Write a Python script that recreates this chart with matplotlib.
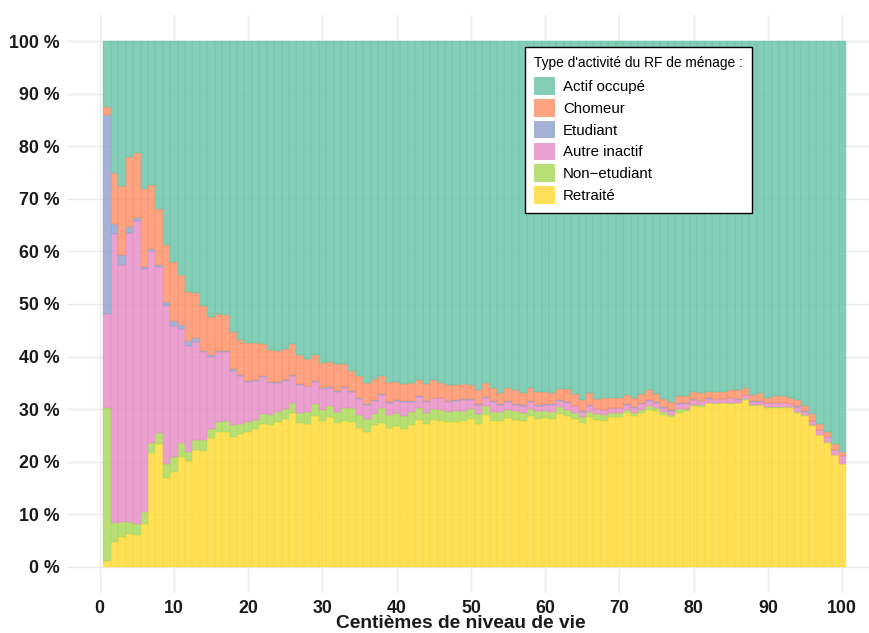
import numpy as np
import matplotlib
matplotlib.use("Agg")
import matplotlib.pyplot as plt
from matplotlib.patches import Patch

# Centiles de niveau de vie 1..100
centiles = np.arange(1, 101)

# Part (en %) de chaque type d'activité
retraite = [1.1, 4.8, 5.6, 6.2, 6.0, 8.1, 21.6, 23.4, 16.8, 18.0,
            20.8, 20.1, 22.2, 22.1, 24.5, 25.7, 25.7, 24.7, 25.3, 25.7,
            26.2, 27.2, 26.9, 27.6, 28.1, 29.2, 27.4, 27.2, 28.7, 27.8,
            28.4, 27.4, 27.7, 27.6, 26.4, 25.7, 26.9, 27.4, 26.4, 26.7,
            26.3, 26.9, 28.0, 27.1, 27.9, 27.8, 27.6, 27.6, 27.8, 28.2,
            27.2, 28.8, 27.8, 27.8, 28.3, 28.0, 27.8, 28.7, 28.1, 28.3,
            28.2, 29.1, 28.6, 28.1, 27.4, 28.4, 28.0, 27.8, 28.4, 28.4,
            29.2, 28.6, 29.2, 29.9, 29.7, 28.8, 28.4, 29.3, 29.7, 30.6,
            30.4, 31.1, 30.9, 31.1, 31.0, 31.1, 31.7, 30.6, 30.7, 30.3,
            30.3, 30.3, 30.3, 29.3, 28.6, 26.8, 25.0, 23.6, 21.2, 19.5]
non_etudiant = [29.1, 3.5, 3.0, 2.4, 2.1, 2.3, 2.0, 2.1, 2.7, 2.8,
                2.8, 1.8, 2.0, 2.1, 1.8, 1.9, 2.1, 2.2, 1.9, 1.8,
                1.8, 1.9, 2.0, 1.9, 2.0, 2.0, 1.9, 2.3, 2.2, 2.0,
                2.1, 2.1, 2.5, 2.6, 2.5, 2.5, 2.2, 2.8, 2.4, 2.5,
                2.4, 2.5, 2.2, 2.1, 2.2, 2.0, 1.9, 2.1, 1.9, 1.9,
                1.8, 1.7, 1.6, 1.6, 1.5, 1.6, 1.4, 1.4, 1.5, 1.3,
                1.3, 1.3, 1.3, 1.2, 1.1, 1.0, 1.0, 1.0, 0.8, 0.8,
                0.7, 0.6, 0.6, 0.6, 0.6, 0.6, 0.4, 0.7, 0.4, 0.2,
                0.3, 0.1, 0.2, 0.1, 0.2, 0.1, 0.2, 0.1, 0.1, 0.1,
                0.1, 0.1, 0.1, 0.2, 0.2, 0.1, 0.1, 0.1, 0.1, 0.1]
autre_inactif = [17.9, 55.0, 48.9, 54.9, 57.7, 46.2, 36.4, 31.5, 30.2, 25.1,
                 21.7, 20.1, 18.6, 16.6, 13.6, 13.3, 13.0, 10.4, 9.1, 7.7,
                 7.4, 7.0, 6.1, 5.5, 5.3, 5.1, 5.3, 4.8, 4.3, 4.0,
                 3.5, 3.8, 3.8, 3.1, 3.0, 2.5, 2.5, 2.5, 2.4, 2.4,
                 2.7, 2.0, 2.1, 2.2, 2.0, 2.3, 1.9, 1.9, 2.0, 1.6,
                 1.7, 1.7, 2.0, 1.4, 1.6, 1.2, 1.3, 1.3, 0.9, 1.1,
                 1.2, 1.2, 1.3, 1.2, 1.0, 1.1, 1.0, 1.0, 1.0, 1.0,
                 0.9, 1.0, 1.1, 1.1, 0.9, 0.9, 0.9, 1.0, 0.9, 0.9,
                 0.8, 0.7, 0.8, 0.7, 0.9, 0.6, 0.7, 0.7, 0.6, 0.7,
                 0.7, 0.7, 0.5, 0.9, 0.7, 0.8, 0.9, 0.9, 0.9, 1.4]
etudiant = [37.9, 2.0, 1.8, 1.1, 0.5, 0.5, 0.4, 0.4, 0.6, 0.8,
            0.7, 0.9, 0.8, 0.2, 0.4, 0.2, 0.2, 0.3, 0.2, 0.2,
            0.2, 0.2, 0.2, 0.2, 0.1, 0.1, 0.1, 0.1, 0.1, 0.2,
            0.2, 0.2, 0.2, 0.1, 0.2, 0.2, 0.1, 0.1, 0.1, 0.1,
            0.1, 0.1, 0.1, 0.1, 0.1, 0.1, 0.1, 0.1, 0.2, 0.2,
            0.2, 0.1, 0.2, 0.1, 0.2, 0.1, 0.2, 0.1, 0.2, 0.2,
            0.2, 0.1, 0.1, 0.1, 0.1, 0.2, 0.1, 0.1, 0.1, 0.1,
            0.1, 0.2, 0.2, 0.1, 0.1, 0.1, 0.1, 0.1, 0.1, 0.2,
            0.1, 0.2, 0.1, 0.1, 0.1, 0.1, 0.1, 0.1, 0.1, 0.1,
            0.1, 0.1, 0.1, 0.1, 0.1, 0.1, 0.1, 0.1, 0.1, 0.1]
chomeur = [1.5, 9.6, 13.2, 13.3, 12.4, 14.7, 12.3, 10.6, 11.0, 11.2,
           9.5, 9.4, 8.4, 8.6, 7.3, 7.0, 6.9, 7.0, 6.6, 7.1,
           6.9, 6.0, 6.0, 5.9, 6.0, 5.9, 5.5, 5.2, 4.9, 4.8,
           4.8, 5.0, 4.3, 3.9, 4.2, 4.0, 4.1, 3.5, 3.9, 3.4,
           3.2, 3.4, 3.2, 3.2, 3.3, 2.8, 3.1, 2.8, 2.8, 2.6,
           2.7, 2.6, 2.4, 2.2, 2.4, 2.7, 2.3, 2.6, 2.6, 2.4,
           2.2, 2.2, 2.6, 2.3, 2.1, 2.3, 1.8, 2.3, 1.8, 1.8,
           1.7, 1.8, 1.7, 1.9, 1.5, 1.5, 1.6, 1.4, 1.4, 1.4,
           1.5, 1.2, 1.3, 1.3, 1.4, 1.7, 1.3, 1.1, 1.5, 1.0,
           1.2, 1.2, 1.1, 1.3, 0.9, 1.2, 1.0, 1.0, 1.0, 0.7]

labels = ["Retraité", "Non\u2212etudiant", "Autre inactif", "Etudiant", "Chomeur", "Actif occupé"]
colors = ["#FFD92F", "#A6D854", "#E78AC3", "#8DA0CB", "#FC8D62", "#66C2A5"]

series = [np.array(retraite), np.array(non_etudiant), np.array(autre_inactif),
          np.array(etudiant), np.array(chomeur)]
# la part des actifs occupés complète jusqu'à 100 %
series.append(100 - sum(series))

fig = plt.figure(figsize=(8.69, 6.33), dpi=100)
# panneau : x de 67 à 869 px, y de 15 à 593 px
ax = fig.add_axes([67 / 869, 40 / 633, 802 / 869, 578 / 633])

bottom = np.zeros(len(centiles))
for vals, lab, col in zip(series, labels, colors):
    ax.bar(centiles, vals, width=1.0, bottom=bottom, color=col, alpha=0.8,
           edgecolor=col, linewidth=0.35, label=lab, zorder=2)
    bottom = bottom + vals

ax.set_xlim(-4.4, 103.6)
ax.set_ylim(-5, 105)
ax.set_xticks(np.arange(0, 101, 10))
ax.set_yticks(np.arange(0, 101, 10))
ax.set_yticklabels([f"{v} %" for v in range(0, 101, 10)])

fam = ["Liberation Sans", "DejaVu Sans"]
for t in ax.get_xticklabels() + ax.get_yticklabels():
    t.set_fontfamily(fam)
    t.set_fontweight("bold")
    t.set_fontsize(12.8)
    t.set_color("#1a1a1a")

ax.tick_params(axis="y", length=0, pad=5)
ax.tick_params(axis="x", length=0, pad=5)
ax.grid(True, color="#EBEBEB", linewidth=1.0, zorder=0)
ax.set_axisbelow(True)
for s in ax.spines.values():
    s.set_visible(False)

ax.set_xlabel("Centièmes de niveau de vie", fontsize=13.8, fontweight="bold",
              family=fam, color="#1a1a1a")
ax.xaxis.set_label_coords((461 - 67) / 802, (593 - 624) / 578)
ax.xaxis.label.set_va("center")

handles = [Patch(facecolor=c, alpha=0.8, edgecolor="none") for c in colors[::-1]]
leg = ax.legend(handles, labels[::-1], title="Type d'activité du RF de ménage :",
                loc="upper left", bbox_to_anchor=(525 / 869, 1 - 47 / 633),
                bbox_transform=fig.transFigure, frameon=True, fancybox=False,
                prop={"family": fam, "size": 10.8},
                title_fontproperties={"family": fam, "size": 9.9},
                handlelength=1.4, handleheight=1.45, labelspacing=0.27,
                handletextpad=0.55, borderpad=0.6, borderaxespad=0,
                alignment="left")
leg.get_frame().set_edgecolor("black")
leg.get_frame().set_linewidth(1.0)
leg.get_frame().set_alpha(1.0)
# un peu plus d'espace entre le titre et les clés
leg._legend_box.sep = 5

fig.savefig("out.png", dpi=100)
